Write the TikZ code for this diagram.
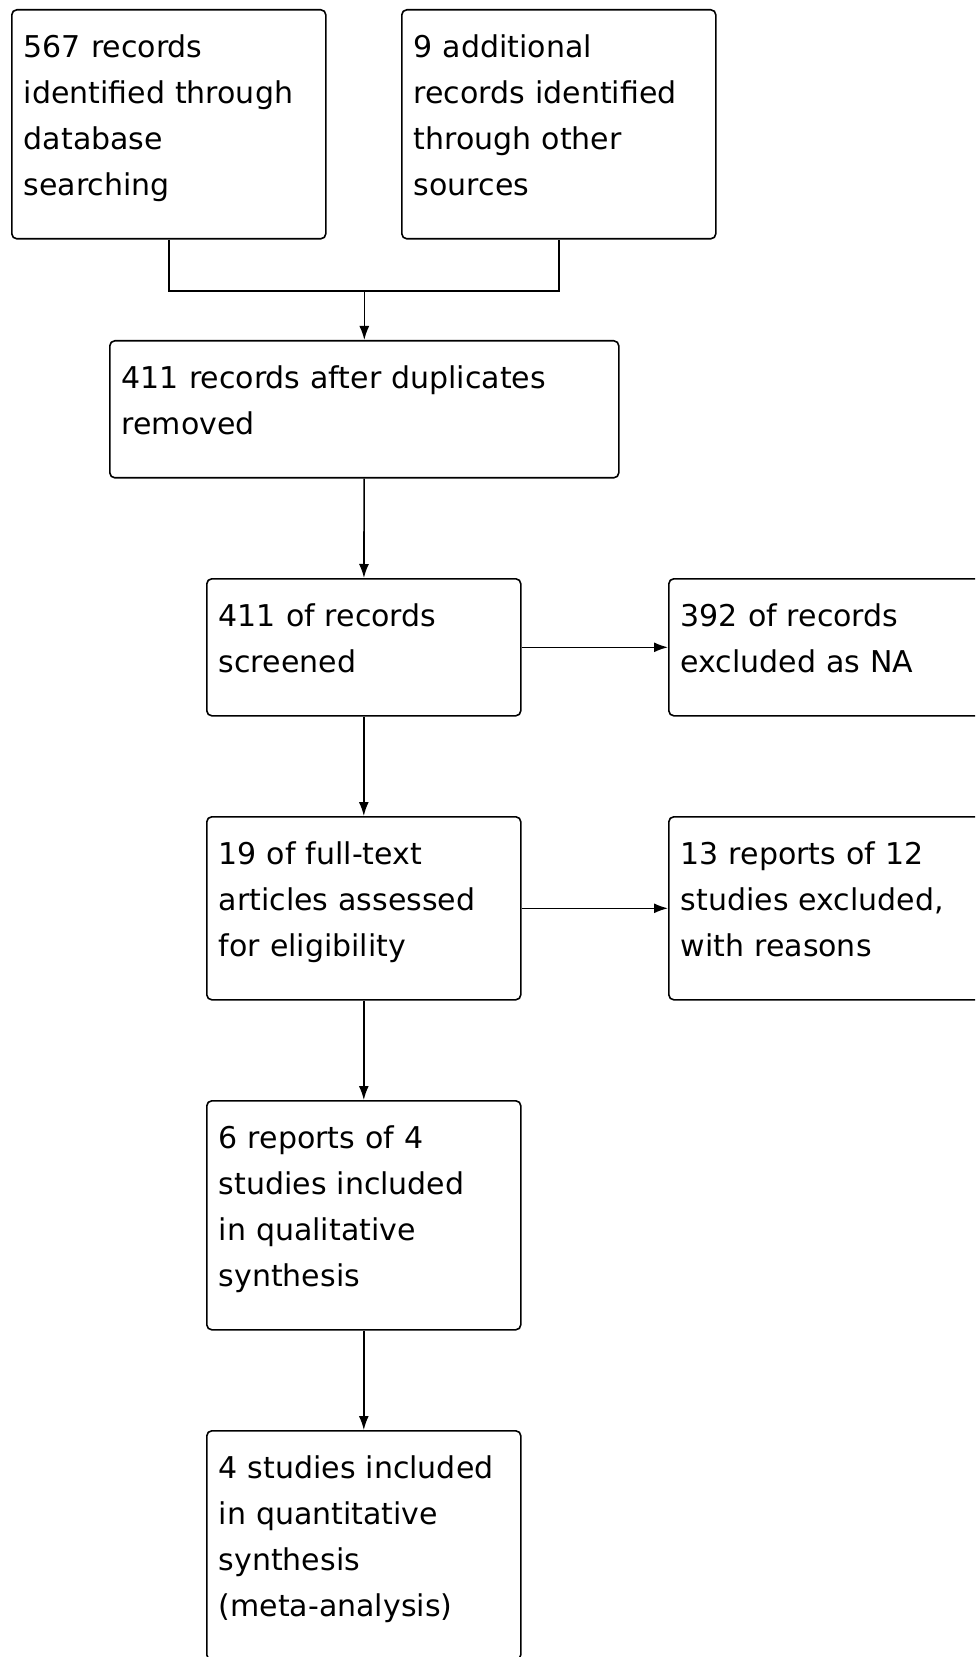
\documentclass[tikz,border=0pt]{standalone}
\usepackage{fontspec}
\setmainfont{DejaVu Sans}
\usetikzlibrary{arrows.meta,positioning,calc}
\newcommand\boxfont{\fontsize{15}{23}\selectfont}
\tikzset{
  flow/.style={draw,line width=0.8pt,rounded corners=2.5pt,anchor=north west,align=left,
    text width=145pt,inner xsep=6pt,inner ysep=0pt,text height=24pt,font=\boxfont,
    execute at end node={\\[-1.5pt]\mbox{}}},
  link/.style={line width=0.8pt,-{Latex[length=7pt,width=5pt]}}
}
\begin{document}
\begin{tikzpicture}[x=0.5pt,y=-0.5pt]
\fill[white](0,0)rectangle(975,1657);
\path[use as bounding box,clip](0,0)rectangle(975,1657);
% identification
\node[flow](db) at (11,9){567 records\\identified through\\database\\searching};
\node[flow](other) at (401,9){9 additional\\records identified\\through other\\sources};
\node[flow,text width=242.5pt](dedup) at (109,340){411 records after duplicates\\removed};
% screening and eligibility
\node[flow](screen) at (206,578){411 of records\\screened};
\node[flow](exclna) at (668,578){392 of records\\excluded as NA};
\node[flow](fulltext) at (206,816){19 of full-text\\articles assessed\\for eligibility};
\node[flow](exclft) at (668,816){13 reports of 12\\studies excluded,\\with reasons};
% included
\node[flow](qual) at (206,1100){6 reports of 4\\studies included\\in qualitative\\synthesis};
\node[flow](quant) at (206,1430){4 studies included\\in quantitative\\synthesis\\(meta-analysis)};
\coordinate (merge) at (dedup.north |- 0,291);
\draw[line width=0.8pt](db.south)|-(merge)-|(other.south);
\draw[link](merge)--(dedup.north);
\foreach \a/\b in {dedup/screen,screen/fulltext,fulltext/qual,qual/quant,screen/exclna,fulltext/exclft}
  \draw[link](\a)--(\b);
\end{tikzpicture}
\end{document}
